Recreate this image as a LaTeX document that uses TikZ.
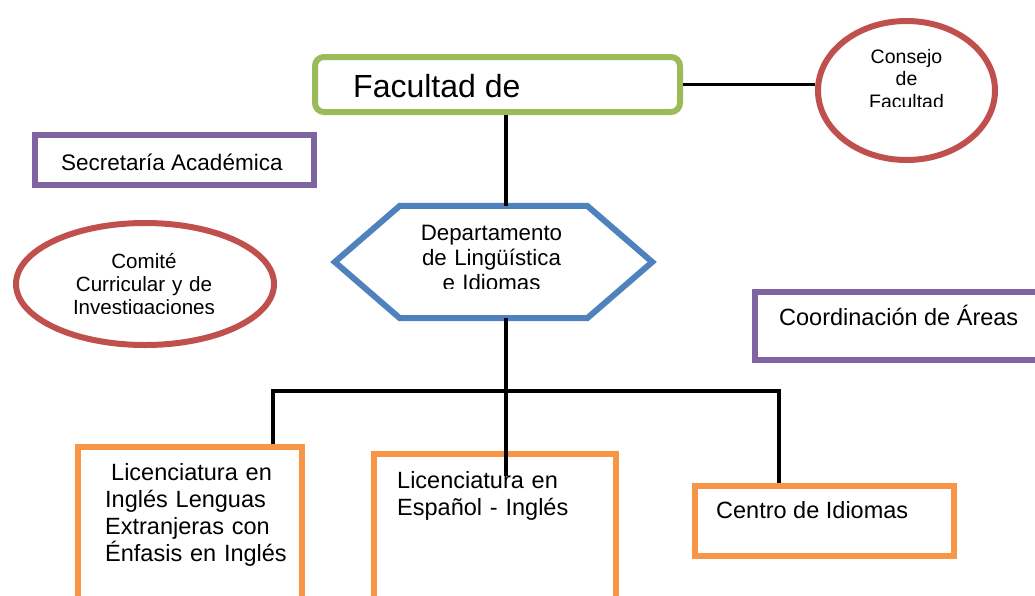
\documentclass[tikz,border=0pt]{standalone}
\usepackage{fontspec}
\setmainfont{Liberation Sans}
\usetikzlibrary{shapes.geometric}
\definecolor{facgreen}{HTML}{9BBB59}
\definecolor{orgred}{HTML}{C0504D}
\definecolor{depblue}{HTML}{4F81BD}
\definecolor{orgpurple}{HTML}{8064A2}
\definecolor{liorange}{HTML}{F79646}
\begin{document}
\begin{tikzpicture}[x=1pt,y=-1pt,
	thickline/.style={line width=6pt},
	box/.style={draw,thickline,inner sep=0pt},
	link/.style={draw=black,line width=3.5pt},
	txt/.style={inner sep=0pt,anchor=base west}]
	\clip (0,0) rectangle (1035,595);
	\node [box,draw=facgreen,rounded corners=9pt,minimum width=365pt,minimum height=55pt] (fac) at (497.5,84.5) {};
	\node [txt,font=\fontsize{32}{37}\selectfont] (fac-t) at (353,97) {Facultad de};
	\node [box,draw=orgred,ellipse,minimum width=177pt,minimum height=139pt] (cons) at (906.5,90.5) {};
	\begin{scope}
		\clip (800,0) rectangle (1010,106.5);
		\node [txt,anchor=base,text width=120pt,align=center,font=\fontsize{19.5}{22.5}\selectfont] (cons-t) at (906.5,63) {Consejo\\de\\Facultad};
	\end{scope}
	\node [box,draw=orgpurple,minimum width=279pt,minimum height=50pt] (secr) at (174.5,160) {};
	\node [txt,font=\fontsize{22.5}{27}\selectfont] (secr-t) at (61,170) {Secretaría Académica};
	\node [minimum width=187pt,minimum height=112pt,inner sep=0pt] (dep) at (493.5,262) {};
	\draw [thickline,depblue] (dep.north west) -- (dep.north east) -- ([xshift=65pt]dep.east) -- (dep.south east) -- (dep.south west) -- ([xshift=-65pt]dep.west) -- cycle;
	\begin{scope}
		\clip (330,200) rectangle (660,288.5);
		\node [txt,anchor=base,text width=220pt,align=center,font=\fontsize{22.3}{25}\selectfont] (dep-t) at (491.5,240.5) {Departamento\\de Lingüística\\e Idiomas};
	\end{scope}
	\node [box,draw=orgred,ellipse,minimum width=258pt,minimum height=122pt] (com) at (145,284) {};
	\begin{scope}
		\clip (0,200) rectangle (290,313);
		\node [txt,anchor=base,text width=220pt,align=center,font=\fontsize{20.6}{23}\selectfont] (com-t) at (144,268) {Comité\\Curricular y de\\Investigaciones};
	\end{scope}
	\node [box,draw=orgpurple,minimum width=291pt,minimum height=67.5pt] (coord) at (900,325.75) {};
	\node [txt,font=\fontsize{23.5}{28}\selectfont] (coord-t) at (779,325) {Coordinación de Áreas};
	\node [box,draw=liorange,minimum width=224pt,minimum height=163pt] (lic1) at (190,528.5) {};
	\node [txt,text width=215pt,align=left,font=\fontsize{23.5}{27}\selectfont] (lic1-t) at (105,480) {\hspace*{6pt}Licenciatura en\\Inglés Lenguas\\Extranjeras con\\Énfasis en Inglés};
	\node [box,draw=liorange,minimum width=242pt,minimum height=156pt] (lic2) at (495,532) {};
	\node [txt,text width=215pt,align=left,font=\fontsize{23.5}{27}\selectfont] (lic2-t) at (397,488) {Licenciatura en\\Español - Inglés};
	\node [box,draw=liorange,minimum width=259.5pt,minimum height=69.5pt] (cent) at (824.25,520.75) {};
	\node [txt,font=\fontsize{23.5}{28}\selectfont] (cent-t) at (716,518) {Centro de Idiomas};
	\coordinate (hub) at (506,391);
	\coordinate (busl) at (273,391);
	\coordinate (busr) at (779,391);
	\coordinate (trunkend) at (506,476);
	\draw [link] (fac.east) -- (fac.east -| cons.west);
	\draw [link] (fac.south -| hub) -- (dep.north -| hub);
	\draw [link] (dep.south -| hub) -- (trunkend);
	\draw [link] (lic1.north -| busl) -- (busl) -- (busr) -- (cent.north -| busr);
\end{tikzpicture}
\end{document}
